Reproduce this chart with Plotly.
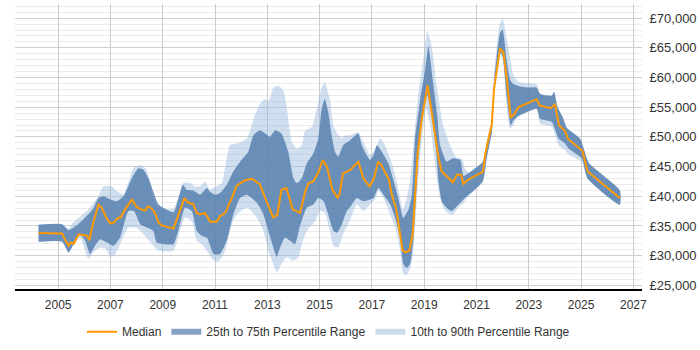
import plotly.graph_objects as go

# ---------------- data ----------------
median_years = [2004.25, 2005.15, 2005.29, 2005.40, 2005.48, 2005.59, 2005.78, 2006.10, 2006.20, 2006.29,
                2006.54, 2006.67, 2006.84, 2006.99, 2007.12, 2007.27, 2007.40, 2007.56, 2007.82, 2008.00,
                2008.20, 2008.33, 2008.43, 2008.58, 2008.70, 2008.84, 2008.96, 2009.41, 2009.83, 2009.98,
                2010.17, 2010.30, 2010.43, 2010.62, 2010.81, 2011.07, 2011.19, 2011.39, 2011.64, 2011.83,
                2012.15, 2012.41, 2012.71, 2012.92, 2013.04, 2013.23, 2013.38, 2013.54, 2013.73, 2013.97,
                2014.25, 2014.45, 2014.57, 2014.76, 2014.95, 2015.12, 2015.28, 2015.49, 2015.68, 2015.76,
                2015.89, 2016.17, 2016.48, 2016.67, 2016.91, 2017.07, 2017.24, 2017.36, 2017.65, 2017.76,
                2017.93, 2018.17, 2018.27, 2018.43, 2018.56, 2018.75, 2018.91, 2019.13, 2019.33, 2019.55,
                2019.67, 2019.86, 2020.10, 2020.25, 2020.41, 2020.50, 2020.65, 2021.25, 2021.33, 2021.50,
                2021.58, 2021.67, 2021.90, 2022.03, 2022.15, 2022.31, 2022.45, 2022.60, 2023.06, 2023.30,
                2023.42, 2023.82, 2024.00, 2024.16, 2024.39, 2024.50, 2025.05, 2025.25, 2026.48]
median_values = [33800, 33750, 32500, 31700, 32200, 31950, 33600, 33350, 32600, 34700,
                 38600, 38050, 36400, 35450, 35550, 36300, 36500, 37800, 39450, 38200,
                 37750, 37600, 38350, 37900, 37200, 35550, 35100, 34550, 39700, 38900,
                 38700, 37200, 36950, 37200, 35700, 35700, 36650, 37200, 39700, 41800,
                 42700, 42950, 42050, 39500, 38400, 36400, 36900, 41100, 41400, 37800,
                 37200, 40800, 42200, 42500, 44000, 46100, 45000, 41100, 39800, 40250,
                 43800, 44450, 45830, 43050, 41670, 42900, 45830, 45270, 42780, 40270,
                 37900, 30900, 30550, 30830, 33600, 47200, 53050, 58720, 52500, 46400,
                 44170, 43330, 42350, 43610, 43610, 42100, 42700, 44170, 47000, 50500,
                 52000, 58000, 64900, 64170, 60000, 53200, 53890, 55000, 55900, 56350,
                 55300, 54830, 55450, 51940, 51000, 49650, 47650, 44170, 39720]

p75_years = [2004.25, 2005.15, 2005.40, 2005.60, 2005.75, 2006.10, 2006.35, 2006.54, 2006.73, 2007.00,
             2007.24, 2007.50, 2007.82, 2008.07, 2008.26, 2008.45, 2008.64, 2008.84, 2009.41, 2009.77,
             2009.92, 2010.15, 2010.43, 2010.69, 2010.80, 2011.00, 2011.19, 2011.45, 2011.70, 2011.96,
             2012.27, 2012.47, 2012.71, 2012.92, 2013.10, 2013.30, 2013.54, 2013.80, 2014.00, 2014.13,
             2014.32, 2014.51, 2014.76, 2014.95, 2015.08, 2015.20, 2015.33, 2015.46, 2015.59, 2015.71,
             2015.90, 2016.17, 2016.48, 2016.61, 2016.80, 2016.93, 2017.06, 2017.19, 2017.38, 2017.63,
             2017.82, 2018.01, 2018.20, 2018.40, 2018.53, 2018.65, 2018.85, 2019.04, 2019.16, 2019.34,
             2019.50, 2019.61, 2019.86, 2020.11, 2020.38, 2020.50, 2020.63, 2021.24, 2021.39, 2021.59,
             2021.67, 2021.90, 2022.00, 2022.15, 2022.28, 2022.41, 2022.67, 2022.92, 2023.30, 2023.43,
             2023.88, 2023.97, 2024.10, 2024.30, 2024.46, 2024.96, 2025.10, 2025.30, 2026.48]
p75_values = [35200, 35300, 34300, 34800, 35200, 36700, 38000, 39700, 40000, 39450,
              39150, 40000, 43050, 44700, 44450, 43050, 40800, 38600, 37300, 41950,
              41100, 41000, 40270, 41380, 40800, 40270, 40550, 41950, 44170, 45830,
              47500, 50280, 51100, 50560, 50000, 51100, 50560, 47500, 43050, 42220,
              43050, 45550, 47220, 49720, 54720, 56390, 54170, 50280, 47500, 46670,
              48610, 49440, 50560, 48610, 46940, 46100, 46940, 48610, 47500, 45550,
              42780, 39720, 36380, 37780, 40270, 49720, 56390, 61390, 65280, 59170,
              53610, 48610, 45830, 46390, 46100, 43440, 43720, 45830, 48610, 52500,
              59170, 67500, 68050, 63050, 59720, 58890, 58500, 58330, 58330, 57220,
              56940, 57610, 55000, 53300, 51500, 49720, 48050, 45600, 41000]

p25_years = [2004.25, 2005.15, 2005.40, 2005.59, 2005.84, 2006.03, 2006.22, 2006.41, 2006.61, 2006.86,
             2007.12, 2007.37, 2007.69, 2007.90, 2008.14, 2008.39, 2008.64, 2008.77, 2009.41, 2009.66,
             2009.85, 2010.11, 2010.30, 2010.50, 2010.69, 2010.94, 2011.19, 2011.45, 2011.70, 2011.96,
             2012.22, 2012.60, 2012.85, 2013.04, 2013.23, 2013.36, 2013.49, 2013.68, 2013.87, 2014.06,
             2014.25, 2014.51, 2014.76, 2014.95, 2015.15, 2015.33, 2015.53, 2015.68, 2015.85, 2016.04,
             2016.17, 2016.42, 2016.67, 2017.06, 2017.25, 2017.44, 2017.70, 2017.89, 2018.08, 2018.20,
             2018.33, 2018.46, 2018.59, 2018.72, 2018.85, 2019.04, 2019.12, 2019.29, 2019.45, 2019.55,
             2019.67, 2019.86, 2020.05, 2020.25, 2020.44, 2020.56, 2021.24, 2021.39, 2021.59, 2021.67,
             2021.87, 2022.00, 2022.15, 2022.31, 2022.41, 2022.54, 2023.30, 2023.43, 2023.88, 2024.14,
             2024.39, 2024.52, 2025.03, 2025.24, 2026.48]
p25_values = [32330, 32330, 30550, 31940, 33600, 32500, 30280, 31670, 32780, 32220,
              31670, 33050, 37500, 37500, 35270, 34720, 34170, 32220, 31940, 35270,
              38050, 37500, 34170, 33330, 33050, 30280, 30280, 32500, 36940, 39720,
              40270, 38890, 36940, 34170, 31390, 29830, 31390, 33050, 32500, 31940,
              35000, 38050, 38600, 39720, 39170, 36940, 34170, 33890, 35270, 37500,
              38200, 39720, 39170, 39720, 41380, 40270, 38600, 36380, 33050, 28610,
              27950, 28610, 33050, 42500, 50830, 56390, 56940, 53610, 48050, 42500,
              39170, 38050, 37500, 38330, 39170, 39720, 42500, 46390, 50830, 56940,
              64440, 63610, 56940, 51940, 52780, 53330, 54720, 53050, 52500, 49720,
              48890, 48050, 46390, 43050, 38600]

p90_years = [2004.25, 2005.15, 2005.40, 2005.55, 2005.71, 2006.10, 2006.54, 2006.73, 2007.05, 2007.24,
             2007.50, 2007.88, 2008.14, 2008.35, 2008.50, 2008.77, 2009.41, 2009.80, 2010.05, 2010.20,
             2010.43, 2010.62, 2010.80, 2011.07, 2011.26, 2011.57, 2011.83, 2012.22, 2012.47, 2012.71,
             2012.92, 2013.05, 2013.23, 2013.43, 2013.62, 2013.75, 2013.94, 2014.13, 2014.32, 2014.45,
             2014.70, 2014.89, 2015.08, 2015.20, 2015.39, 2015.53, 2015.68, 2015.85, 2015.98, 2016.17,
             2016.48, 2016.67, 2016.93, 2017.12, 2017.31, 2017.50, 2017.70, 2017.89, 2018.08, 2018.18,
             2018.33, 2018.46, 2018.59, 2018.78, 2018.97, 2019.12, 2019.29, 2019.48, 2019.73, 2019.99,
             2020.25, 2020.44, 2020.56, 2020.70, 2021.24, 2021.39, 2021.59, 2021.67, 2021.87, 2022.00,
             2022.20, 2022.41, 2022.60, 2023.30, 2023.43, 2023.88, 2023.97, 2024.10, 2024.30, 2024.46,
             2024.96, 2025.10, 2025.30, 2026.48]
p90_values = [35200, 35300, 34500, 35500, 36100, 37500, 40000, 41670, 41670, 40830,
              40300, 44720, 45270, 44720, 42800, 38330, 37900, 42300, 42220, 41700,
              41670, 42500, 41200, 41670, 42220, 48610, 48890, 49720, 53050, 55550,
              56390, 56000, 58330, 58610, 57780, 54720, 49170, 48050, 48610, 51110,
              51670, 54720, 58330, 59170, 56390, 51940, 50560, 49720, 50280, 50280,
              50830, 49170, 46940, 47780, 49830, 48610, 46390, 43610, 39720, 37780,
              39720, 42500, 48610, 57500, 63050, 67780, 65280, 58610, 51940, 48610,
              46390, 46390, 44720, 44000, 45900, 49170, 53000, 60270, 68610, 70000,
              65500, 60500, 59300, 58890, 57300, 57000, 57650, 55050, 53350, 51550,
              49750, 48100, 45650, 41000]

p10_years = [2004.25, 2005.15, 2005.40, 2005.59, 2005.84, 2006.16, 2006.35, 2006.61, 2006.80, 2006.99,
             2007.15, 2007.37, 2007.69, 2008.00, 2008.26, 2008.64, 2008.84, 2009.41, 2009.66, 2009.85,
             2010.11, 2010.30, 2010.50, 2010.69, 2010.94, 2011.13, 2011.39, 2011.64, 2011.83, 2012.22,
             2012.60, 2012.85, 2013.04, 2013.23, 2013.36, 2013.54, 2013.73, 2014.00, 2014.19, 2014.32,
             2014.51, 2014.83, 2015.02, 2015.20, 2015.39, 2015.53, 2015.71, 2015.90, 2016.17, 2016.42,
             2016.67, 2016.93, 2017.12, 2017.25, 2017.44, 2017.70, 2017.89, 2018.08, 2018.18, 2018.31,
             2018.46, 2018.59, 2018.72, 2018.91, 2019.07, 2019.23, 2019.42, 2019.55, 2019.73, 2019.93,
             2020.11, 2020.31, 2020.50, 2020.63, 2021.24, 2021.39, 2021.59, 2021.67, 2021.87, 2022.00,
             2022.15, 2022.28, 2022.41, 2022.54, 2023.30, 2023.43, 2023.88, 2024.14, 2024.39, 2024.52,
             2025.03, 2025.24, 2026.48]
p10_values = [32330, 32330, 30500, 31900, 33000, 29440, 30600, 31390, 31200, 29830,
              30000, 31940, 34720, 34720, 33600, 31670, 30830, 30830, 34170, 36380,
              35830, 32500, 31940, 30830, 29170, 29000, 30830, 35270, 36940, 38050,
              36380, 34170, 30830, 28610, 27220, 28610, 29720, 29170, 29720, 31940,
              34170, 35830, 37500, 37200, 34170, 31670, 31390, 33600, 36000, 38600,
              37500, 38600, 39440, 40830, 39720, 36940, 34720, 30830, 27220, 26670,
              27780, 30830, 39720, 49720, 54720, 51940, 45270, 40830, 38050, 37050,
              36940, 38050, 38890, 39720, 42450, 46350, 50800, 56390, 64170, 63000,
              55830, 51500, 51940, 53280, 54700, 52220, 51670, 48610, 47780, 47000,
              45830, 43000, 38550]

tick_years = [2005, 2007, 2009, 2011, 2013, 2015, 2017, 2019, 2021, 2023, 2025, 2027]
tick_labels = [str(y) for y in tick_years]

series_names = ["Median", "25th to 75th Percentile Range", "10th to 90th Percentile Range"]

# ---------------- figure ----------------
FONT = "Liberation Sans, Arial, sans-serif"
fig = go.Figure()

# 10th-90th band
fig.add_trace(go.Scatter(
    x=p90_years + p10_years[::-1], y=p90_values + p10_values[::-1],
    fill="toself", fillcolor="rgba(150,185,222,0.45)",
    line=dict(width=0, shape="spline", smoothing=0.5),
    mode="lines", hoverinfo="skip", showlegend=False))
# 25th-75th band
fig.add_trace(go.Scatter(
    x=p75_years + p25_years[::-1], y=p75_values + p25_values[::-1],
    fill="toself", fillcolor="rgba(80,124,172,0.8)",
    line=dict(width=0, shape="spline", smoothing=0.5),
    mode="lines", hoverinfo="skip", showlegend=False))
# median
fig.add_trace(go.Scatter(
    x=median_years, y=median_values, mode="lines", name=series_names[0],
    line=dict(color="#ff9900", width=2), legendrank=1))

# legend swatches for the bands
fig.add_trace(go.Scatter(
    x=[None], y=[None], mode="none", fill="toself", fillcolor="#87a3c4",
    name=series_names[1], legendrank=2))
fig.add_trace(go.Scatter(
    x=[None], y=[None], mode="none", fill="toself", fillcolor="#cddcec",
    name=series_names[2], legendrank=3))

fig.update_layout(
    width=700, height=350,
    margin=dict(l=15, r=58, t=4, b=58),
    paper_bgcolor="white", plot_bgcolor="white",
    font=dict(family=FONT, size=12, color="#333333"),
    showlegend=True,
    legend=dict(orientation="h", x=0.5, xanchor="center", y=-0.15, yanchor="middle",
                font=dict(family=FONT, size=12, color="#333333"),
                itemwidth=30, tracegroupgap=0),
    xaxis=dict(range=[2003.35, 2027.33], tickmode="array", tickvals=tick_years,
               ticktext=tick_labels, showgrid=True, gridcolor="#cccccc", gridwidth=1,
               zeroline=False, showline=True, linecolor="#000000", linewidth=1.5,
               ticks="outside", ticklen=4, tickcolor="rgba(0,0,0,0)",
               tickfont=dict(family=FONT, size=12, color="#333333")),
    yaxis=dict(range=[24383, 72383], side="right", tick0=0, dtick=5000,
               tickprefix="£", tickformat=",d", showgrid=True, gridcolor="#cfcfcf",
               gridwidth=1, zeroline=False, showline=False,
               ticks="outside", ticklen=4, tickcolor="rgba(0,0,0,0)",
               minor=dict(dtick=1000, tick0=0, showgrid=True, gridcolor="#ebebeb", gridwidth=1),
               tickfont=dict(family=FONT, size=13, color="#333333")),
)

fig.write_html("out.html")
